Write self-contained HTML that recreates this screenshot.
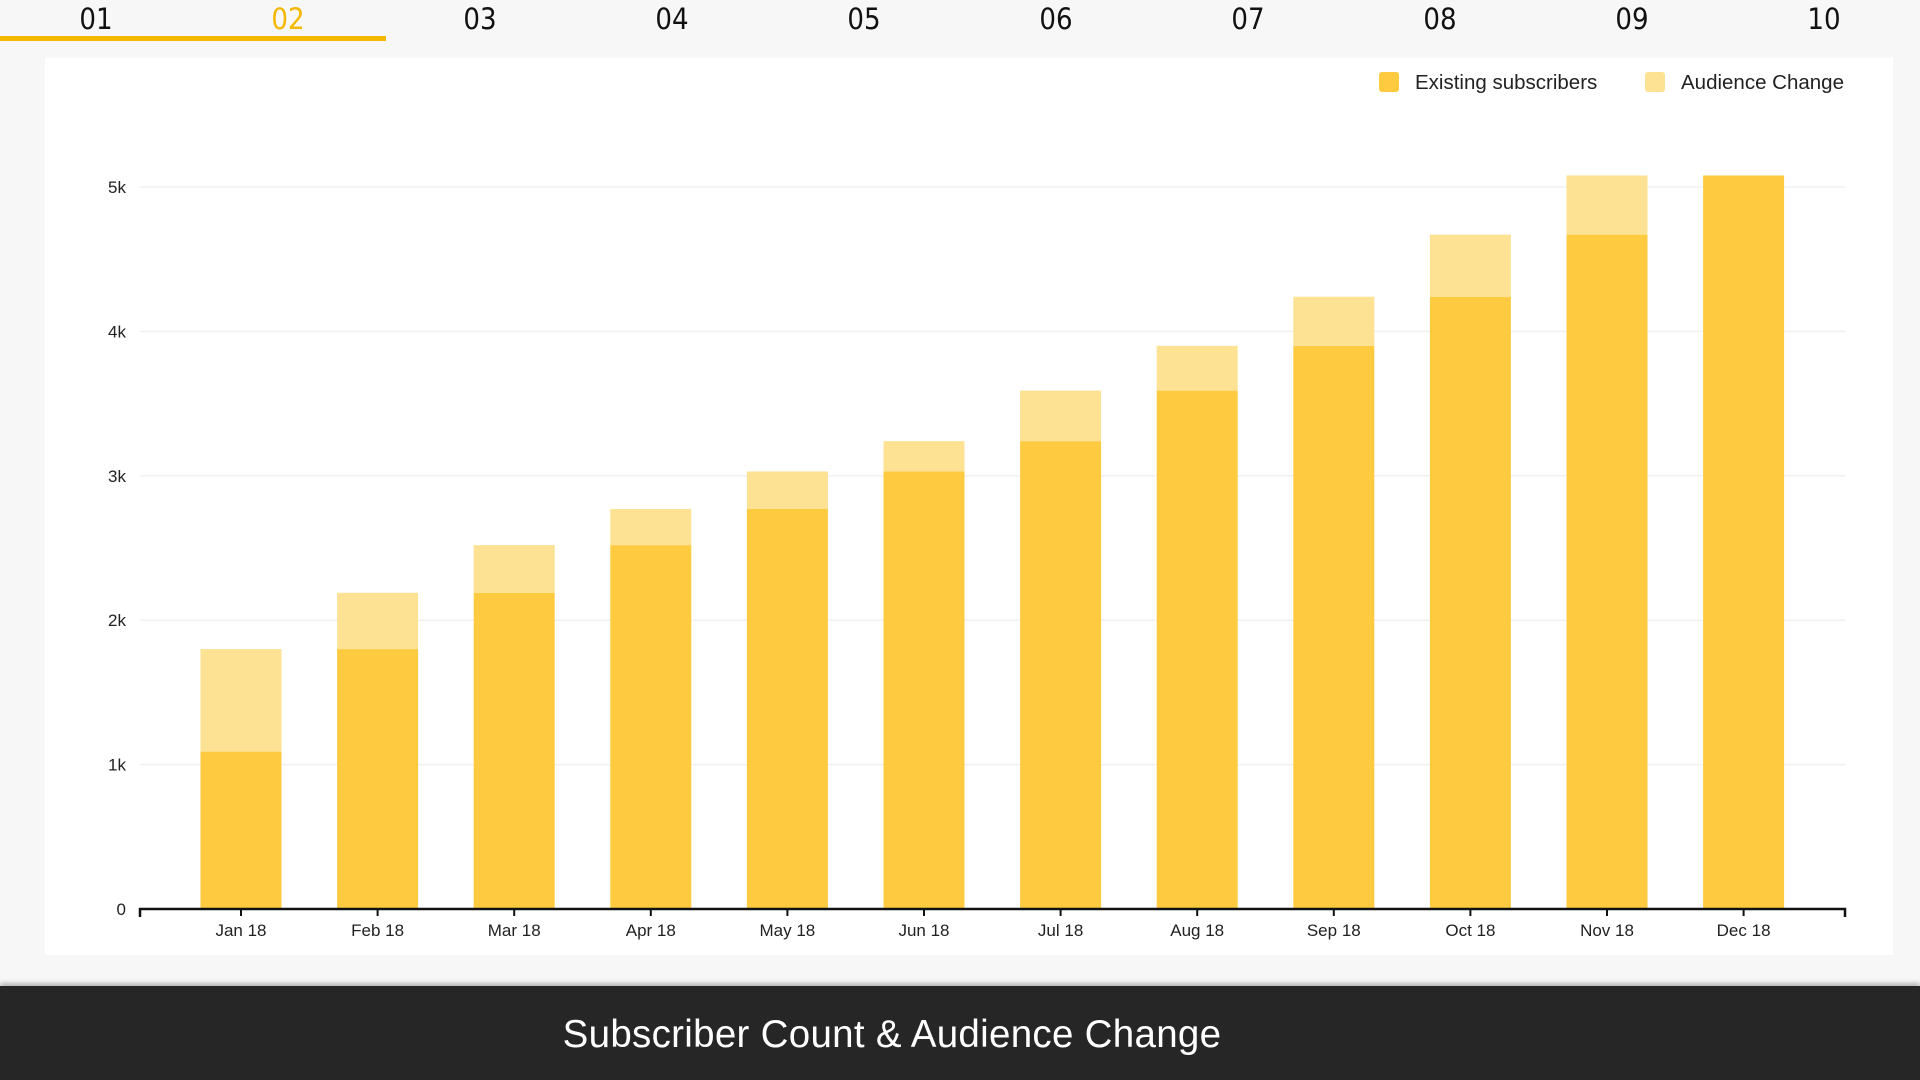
<!DOCTYPE html>
<html><head><meta charset="utf-8">
<style>
html,body{margin:0;padding:0;width:1920px;height:1080px;overflow:hidden;background:#f7f7f7;font-family:"Liberation Sans",sans-serif;}
.tabs{position:absolute;left:0;top:0;width:1920px;height:56px;}
.tab{position:absolute;top:2px;width:192px;text-align:center;font-size:29px;color:#111;font-family:"DejaVu Sans Condensed","Liberation Sans Narrow","Liberation Sans",sans-serif;font-weight:300;}
.tab.active{color:#f5b800;}
.underline{position:absolute;left:0;top:36px;width:386px;height:5px;background:#f5b800;}
.card{position:absolute;left:45px;top:58px;width:1848px;height:897px;background:#fff;}
.footer{position:absolute;left:0;top:986px;width:1920px;height:94px;background:#262626;box-shadow:0 -3px 4px rgba(0,0,0,0.25);}
.footer-title{position:absolute;left:0;width:1784px;text-align:center;top:27px;font-size:38.5px;letter-spacing:0.3px;color:#fff;font-family:"Liberation Sans",sans-serif;font-weight:normal;}
</style></head>
<body>
<div class="tabs">
  <div class="tab" style="left:0">01</div>
  <div class="tab active" style="left:192px">02</div>
  <div class="tab" style="left:384px">03</div>
  <div class="tab" style="left:576px">04</div>
  <div class="tab" style="left:768px">05</div>
  <div class="tab" style="left:960px">06</div>
  <div class="tab" style="left:1152px">07</div>
  <div class="tab" style="left:1344px">08</div>
  <div class="tab" style="left:1536px">09</div>
  <div class="tab" style="left:1728px">10</div>
  <div class="underline"></div>
</div>
<div class="card"></div>
<svg id="chart" width="1920" height="1080" style="position:absolute;left:0;top:0"></svg>
<div class="footer"><div class="footer-title">Subscriber Count &amp; Audience Change</div></div>
<script>
const categories = ["Jan 18","Feb 18","Mar 18","Apr 18","May 18","Jun 18","Jul 18","Aug 18","Sep 18","Oct 18","Nov 18","Dec 18"];
const existingSubscribers = [1090,1800,2190,2520,2770,3030,3240,3590,3900,4240,4670,5080];
const audienceChange = [710,390,330,250,260,210,350,310,340,430,410,0];
const yTicks = [0,1000,2000,3000,4000,5000];
const yTickLabels = ["0","1k","2k","3k","4k","5k"];

const NS="http://www.w3.org/2000/svg";
const svg=document.getElementById('chart');
const x0=140,x1=1845,y0=909,pxPerUnit=144.4/1000;
const firstC=241,stepC=136.6,barW=81;
function yScale(v){return y0-v*pxPerUnit;}
function xScale(i){return firstC+i*stepC;}
function mk(tag,attrs){const e=document.createElementNS(NS,tag);for(const k in attrs)e.setAttribute(k,attrs[k]);svg.appendChild(e);return e;}

yTicks.forEach((t,i)=>{
  if(t>0){
    const g=mk('line',{x1:x0,x2:x1,y1:yScale(t),y2:yScale(t),stroke:'#f0f0f0','stroke-width':1.5});
    
    
  }
  const l=mk('text',{x:126,y:yScale(t)+6,'text-anchor':'end','font-size':17,fill:'#222','font-family':'Liberation Sans, sans-serif'});
  l.textContent=yTickLabels[i];
  
  
});

categories.forEach((c,i)=>{
  const cx=xScale(i);
  const b=mk('rect',{x:cx-barW/2,y:yScale(existingSubscribers[i]),width:barW,height:existingSubscribers[i]*pxPerUnit,fill:'#fdca40'});
  
  
  if(audienceChange[i]>0){
    const top=existingSubscribers[i]+audienceChange[i];
    const b2=mk('rect',{x:cx-barW/2,y:yScale(top),width:barW,height:audienceChange[i]*pxPerUnit,fill:'#fde293'});
    
    
  }
  const tk=mk('line',{x1:cx,x2:cx,y1:y0,y2:y0+7,stroke:'#111','stroke-width':2});
  
  
  const lb=mk('text',{x:cx,y:y0+27,'text-anchor':'middle','font-size':17,fill:'#222','font-family':'Liberation Sans, sans-serif'});
  lb.textContent=c;
  
  
});

const ax=mk('path',{d:`M${x0} ${y0+8}V${y0}H${x1}V${y0+8}`,stroke:'#111','stroke-width':2.5,fill:'none'});



const legend=[["Existing subscribers","#fdca40",1379],["Audience Change","#fde293",1645]];
legend.forEach(([name,col,lx])=>{
  const s=mk('rect',{x:lx,y:72,width:20,height:20,rx:3,fill:col});
  
  
  const t=mk('text',{x:lx+36,y:89,'font-size':20.5,fill:'#222','font-family':'Liberation Sans, sans-serif'});
  t.textContent=name;
  
  
});
</script>
</body></html>
